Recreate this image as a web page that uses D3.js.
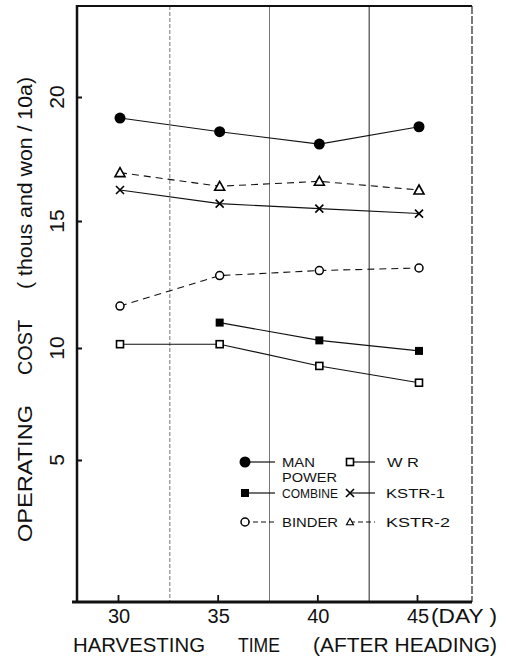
<!DOCTYPE html>
<html><head><meta charset="utf-8">
<script src="https://cdn.jsdelivr.net/npm/d3@7"></script>
<style>body{margin:0;background:#fff}svg{display:block}</style>
</head><body><svg id="c" width="506" height="657"></svg>
<script>
const days = [30, 35, 40, 45];
const manPower = [19.15, 18.6, 18.1, 18.8];
const combine = [null, 11.0, 10.3, 9.87];
const binder = [11.65, 12.85, 13.05, 13.15];
const wr = [10.15, 10.15, 9.2, 8.45];
const kstr1 = [16.25, 15.7, 15.5, 15.3];
const kstr2 = [16.95, 16.4, 16.6, 16.25];
const yTicks = [5, 10, 15, 20];
const xTicks = [30, 35, 40, 45];
const gridDays = [32.5, 37.5, 42.5];

const series = [
  {name: "MAN POWER", vals: manPower, marker: "dot", dash: null},
  {name: "COMBINE", vals: combine, marker: "fsq", dash: null},
  {name: "BINDER", vals: binder, marker: "ocirc", dash: "7,5"},
  {name: "W R", vals: wr, marker: "osq", dash: null},
  {name: "KSTR-1", vals: kstr1, marker: "x", dash: null},
  {name: "KSTR-2", vals: kstr2, marker: "tri", dash: "7,5"}
];

const svg = d3.select("#c");
const F = "'Liberation Sans',Arial,sans-serif";
const L = 77, R = 472, T = 6, B = 602;
const x = d3.scaleLinear().domain([30, 45]).range([120, 419]);
const y = d3.scaleLinear().domain([5, 10, 15, 20]).range([460, 348, 221, 97]);

// grid
svg.selectAll("line.g").data(gridDays).join("line")
  .attr("x1", d => x(d)).attr("x2", d => x(d)).attr("y1", T).attr("y2", B)
  .attr("stroke", (d, i) => i === 2 ? "#222" : "#777").attr("stroke-width", 1)
  .attr("stroke-dasharray", (d, i) => i === 0 ? "4,2" : null);

// frame
svg.append("line").attr("x1", L).attr("x2", R).attr("y1", T).attr("y2", T).attr("stroke", "#111").attr("stroke-width", 2);
svg.append("line").attr("x1", R).attr("x2", R).attr("y1", T).attr("y2", B).attr("stroke", "#333").attr("stroke-width", 1.3).attr("stroke-dasharray", "8,2");

// axes
const xAxis = d3.axisTop(x).tickValues(xTicks).tickSize(7).tickFormat("");
const gx = svg.append("g").attr("transform", `translate(0,${B})`).call(xAxis);
gx.select(".domain").remove();
gx.selectAll(".tick line").attr("stroke", "#111").attr("stroke-width", 1.8).attr("transform", "translate(-2,0)");
svg.append("line").attr("x1", 72).attr("x2", R).attr("y1", B).attr("y2", B).attr("stroke", "#111").attr("stroke-width", 3);

const yAxis = d3.axisRight(y).tickValues(yTicks).tickSize(5).tickFormat("");
const gy = svg.append("g").attr("transform", `translate(${L},0)`).call(yAxis);
gy.select(".domain").remove();
gy.selectAll(".tick line").attr("stroke", "#111").attr("stroke-width", 2);
svg.append("line").attr("x1", L).attr("x2", L).attr("y1", T - 1).attr("y2", B + 1).attr("stroke", "#111").attr("stroke-width", 2.5);

// tick labels
svg.selectAll("text.xt").data(xTicks).join("text")
  .attr("x", d => x(d) - 1).attr("y", 623).attr("text-anchor", "middle")
  .attr("font-family", F).attr("font-size", 20).attr("fill", "#111").text(d => d);
svg.append("text").attr("x", 431).attr("y", 623).attr("font-family", F).attr("font-size", 20)
  .attr("fill", "#111").attr("textLength", 66).attr("lengthAdjust", "spacingAndGlyphs").text("(DAY )");
svg.selectAll("text.yt").data(yTicks).join("text")
  .attr("transform", d => `translate(64,${y(d)}) rotate(-90)`).attr("text-anchor", "middle")
  .attr("font-family", F).attr("font-size", 21).attr("fill", "#111").text(d => d);

// axis titles
const xt = [["HARVESTING", 73, 132], ["TIME", 238, 42], ["(AFTER HEADING)", 313, 184]];
xt.forEach(([t, px, w]) => svg.append("text").attr("x", px).attr("y", 652).attr("font-family", F)
  .attr("font-size", 21).attr("fill", "#111").attr("textLength", w).attr("lengthAdjust", "spacingAndGlyphs").text(t));
const yt = [["OPERATING", 542, 137], ["COST", 375, 55], ["( thous and won / 10a)", 289, 212]];
yt.forEach(([t, py, w]) => svg.append("text").attr("transform", `translate(32,${py}) rotate(-90)`)
  .attr("font-family", F).attr("font-size", 21).attr("fill", "#111").attr("textLength", w)
  .attr("lengthAdjust", "spacingAndGlyphs").text(t));

// markers
function marker(g, type, cx, cy) {
  if (type === "dot") g.append("circle").attr("cx", cx).attr("cy", cy).attr("r", 5.5).attr("fill", "#000");
  else if (type === "fsq") g.append("rect").attr("x", cx - 4).attr("y", cy - 4).attr("width", 8).attr("height", 8).attr("fill", "#000");
  else if (type === "ocirc") g.append("circle").attr("cx", cx).attr("cy", cy).attr("r", 4).attr("fill", "#fff").attr("stroke", "#000").attr("stroke-width", 1.5);
  else if (type === "osq") g.append("rect").attr("x", cx - 3.5).attr("y", cy - 3.5).attr("width", 7).attr("height", 7).attr("fill", "#fff").attr("stroke", "#000").attr("stroke-width", 1.6);
  else if (type === "x") g.append("path").attr("d", `M${cx-4},${cy-4}L${cx+4},${cy+4}M${cx-4},${cy+4}L${cx+4},${cy-4}`).attr("stroke", "#000").attr("stroke-width", 1.6);
  else if (type === "tri") g.append("path").attr("d", `M${cx},${cy-5}L${cx+5},${cy+4}L${cx-5},${cy+4}Z`).attr("fill", "#fff").attr("stroke", "#000").attr("stroke-width", 1.6);
}

const line = d3.line().defined(d => d.v != null).x(d => x(d.d)).y(d => y(d.v));
series.forEach(s => {
  const pts = days.map((d, i) => ({d, v: s.vals[i]}));
  svg.append("path").datum(pts).attr("d", line).attr("fill", "none").attr("stroke", "#111")
    .attr("stroke-width", 1.1).attr("stroke-dasharray", s.dash);
  const g = svg.append("g");
  pts.filter(p => p.v != null).forEach(p => marker(g, s.marker, x(p.d), y(p.v)));
});

// legend
const leg = [
  {s: series[0], mx: 245, lx2: 275, tx: 282, ty: 462, label: [["MAN", 33], ["POWER", 55]]},
  {s: series[1], mx: 245, lx2: 275, tx: 282, ty: 493, label: [["COMBINE", 56]]},
  {s: series[2], mx: 245, lx2: 275, tx: 282, ty: 522, label: [["BINDER", 56]]},
  {s: series[3], mx: 350, lx2: 375, tx: 387, ty: 462, label: [["W R", 32]]},
  {s: series[4], mx: 350, lx2: 375, tx: 386, ty: 493, label: [["KSTR-1", 59]]},
  {s: series[5], mx: 350, lx2: 375, tx: 386, ty: 522, label: [["KSTR-2", 64]]}
];
leg.forEach(e => {
  svg.append("line").attr("x1", e.mx).attr("x2", e.lx2).attr("y1", e.ty).attr("y2", e.ty)
    .attr("stroke", "#111").attr("stroke-width", 1.2).attr("stroke-dasharray", e.s.dash ? "5,3" : null);
  const g = svg.append("g");
  marker(g, e.s.marker, e.mx, e.ty);
  if (e.s.marker === "tri") g.attr("transform", `translate(${e.mx},${e.ty}) scale(0.7) translate(${-e.mx},${-e.ty})`);
  e.label.forEach(([t, w], i) => svg.append("text").attr("x", e.tx).attr("y", e.ty + 5 + i * 15)
    .attr("font-family", F).attr("font-size", 13.5).attr("fill", "#111")
    .attr("textLength", w).attr("lengthAdjust", "spacingAndGlyphs").text(t));
});
</script></body></html>
